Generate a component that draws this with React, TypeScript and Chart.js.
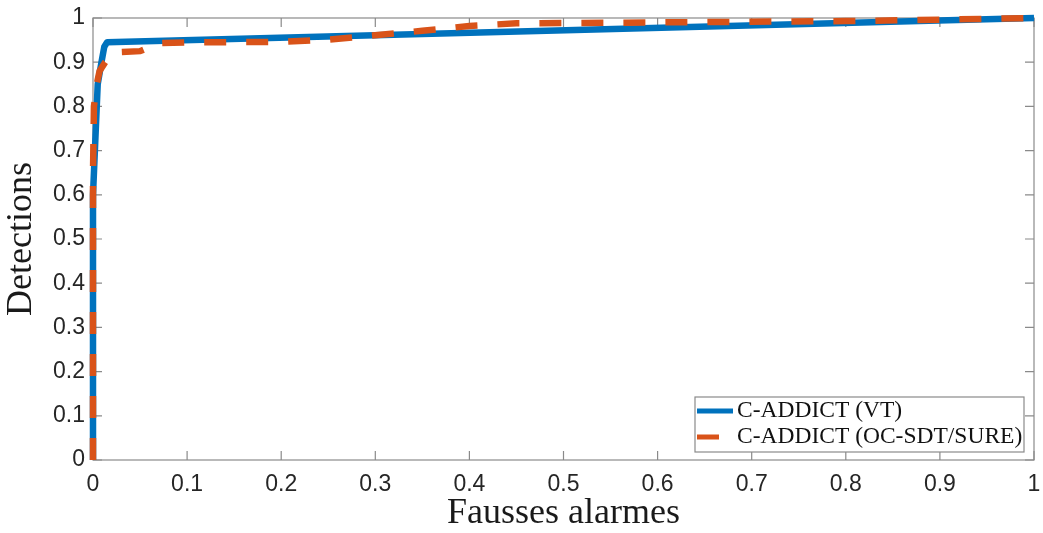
import React, { useEffect, useRef } from "react";
import { Chart, registerables } from "chart.js";

Chart.register(...registerables);

// ---- data ----
const seriesLabels = ["C-ADDICT (VT)", "C-ADDICT (OC-SDT/SURE)"];
const vtX = [0, 0, 0.002, 0.005, 0.009, 0.012, 0.015, 1];
const vtY = [0, 0.6, 0.7, 0.85, 0.9, 0.935, 0.945, 1];
const ocX = [0, 0, 0.001, 0.004, 0.007, 0.013, 0.022, 0.03, 0.05, 0.07, 0.1, 0.2, 0.25, 0.3, 0.35, 0.4, 0.45, 0.6, 0.8, 0.95, 1];
const ocY = [0, 0.65, 0.8, 0.85, 0.88, 0.9, 0.918, 0.923, 0.925, 0.943, 0.945, 0.946, 0.951, 0.961, 0.971, 0.982, 0.988, 0.99, 0.993, 0.998, 1];
const xTickValues = [0, 0.1, 0.2, 0.3, 0.4, 0.5, 0.6, 0.7, 0.8, 0.9, 1];
const yTickValues = [0, 0.1, 0.2, 0.3, 0.4, 0.5, 0.6, 0.7, 0.8, 0.9, 1];
const xTitle = "Fausses alarmes";
const yTitle = "Detections";

const BLUE = "#0072BD";
const ORANGE = "#D95319";
const AXIS = "#8a8a8a";
const TEXT = "#262626";

const fmt = (v: number) => String(Number(v.toFixed(1)));

const boxPlugin = {
  id: "matlabBox",
  beforeDatasetsDraw(chart: any) {
    const { ctx, chartArea: a, scales } = chart;
    ctx.save();
    ctx.strokeStyle = AXIS;
    ctx.lineWidth = 1.2;
    ctx.strokeRect(a.left, a.top, a.right - a.left, a.bottom - a.top);
    const tl = 9;
    ctx.beginPath();
    xTickValues.forEach((v) => {
      const px = scales.x.getPixelForValue(v);
      ctx.moveTo(px, a.bottom);
      ctx.lineTo(px, a.bottom - tl);
      ctx.moveTo(px, a.top);
      ctx.lineTo(px, a.top + tl);
    });
    yTickValues.forEach((v) => {
      const py = scales.y.getPixelForValue(v);
      ctx.moveTo(a.left, py);
      ctx.lineTo(a.left + tl, py);
      ctx.moveTo(a.right, py);
      ctx.lineTo(a.right - tl, py);
    });
    ctx.stroke();
    ctx.restore();
  },
  afterDatasetsDraw(chart: any) {
    const { ctx, chartArea: a } = chart;
    const right = a.right - 10;
    const bottom = a.bottom - 8;
    const w = 329;
    const h = 55;
    const left = right - w;
    const top = bottom - h;
    ctx.save();
    ctx.fillStyle = "#ffffff";
    ctx.fillRect(left, top, w, h);
    ctx.strokeStyle = AXIS;
    ctx.lineWidth = 1.2;
    ctx.strokeRect(left, top, w, h);
    ctx.font = "23.5px 'Liberation Serif'";
    ctx.textBaseline = "middle";
    ctx.fillStyle = "#111";
    chart.data.datasets.forEach((ds: any, i: number) => {
      const cy = top + 14 + i * 26;
      ctx.beginPath();
      ctx.strokeStyle = ds.borderColor;
      ctx.lineWidth = 5;
      ctx.lineCap = "butt";
      ctx.setLineDash(ds.borderDash || []);
      ctx.moveTo(left + 2, cy);
      ctx.lineTo(left + 38, cy);
      ctx.stroke();
      ctx.setLineDash([]);
      ctx.fillText(ds.label, left + 42, cy);
    });
    ctx.restore();
  },
};

export default function App() {
  const ref = useRef<HTMLCanvasElement | null>(null);
  useEffect(() => {
    if (!ref.current) return;
    const chart = new Chart(ref.current, {
      type: "line",
      data: {
        datasets: [
          {
            label: seriesLabels[0],
            data: vtX.map((x, i) => ({ x, y: vtY[i] })),
            borderColor: BLUE,
            backgroundColor: BLUE,
            borderWidth: 6.5,
            pointRadius: 0,
            tension: 0,
            borderJoinStyle: "round",
            clip: false as any,
            order: 1,
          },
          {
            label: seriesLabels[1],
            data: ocX.map((x, i) => ({ x, y: ocY[i] })),
            borderColor: ORANGE,
            backgroundColor: ORANGE,
            borderWidth: 6.5,
            borderDash: [22, 20],
            borderCapStyle: "butt",
            pointRadius: 0,
            tension: 0,
            clip: false as any,
            order: 0,
          },
        ],
      },
      options: {
        responsive: false,
        animation: false,
        layout: { padding: { top: 18, right: 9, left: 0, bottom: 0 } },
        plugins: { legend: { display: false }, tooltip: { enabled: false } },
        scales: {
          x: {
            type: "linear",
            min: 0,
            max: 1,
            afterBuildTicks: (s: any) => {
              s.ticks = xTickValues.map((v) => ({ value: v }));
            },
            afterFit: (s: any) => {
              s.height = 73;
              s.paddingLeft = 0;
              s.paddingRight = 0;
            },
            ticks: {
              autoSkip: false,
              maxRotation: 0,
              padding: 11,
              color: TEXT,
              font: { family: "'Liberation Sans'", size: 23 },
              callback: (v: any) => fmt(Number(v)),
            },
            grid: { display: false, drawTicks: false },
            border: { display: false },
            title: {
              display: true,
              text: xTitle,
              color: "#1a1a1a",
              font: { family: "'Liberation Serif'", size: 36, lineHeight: 1 },
              padding: { top: 0, bottom: 1 },
            },
          },
          y: {
            type: "linear",
            min: 0,
            max: 1,
            afterBuildTicks: (s: any) => {
              s.ticks = yTickValues.map((v) => ({ value: v }));
            },
            afterFit: (s: any) => {
              s.width = 93;
              s.paddingTop = 0;
              s.paddingBottom = 0;
            },
            ticks: {
              autoSkip: false,
              padding: 8,
              color: TEXT,
              font: { family: "'Liberation Sans'", size: 23 },
              callback: (v: any) => fmt(Number(v)),
            },
            grid: { display: false, drawTicks: false },
            border: { display: false },
            title: {
              display: true,
              text: yTitle,
              color: "#1a1a1a",
              font: { family: "'Liberation Serif'", size: 36, lineHeight: 1 },
              padding: { top: 4, bottom: 0 },
            },
          },
        },
      },
      plugins: [boxPlugin],
    } as any);
    return () => chart.destroy();
  }, []);
  return (
    <div style={{ position: "absolute", left: 0, top: 0, width: 1043, height: 533, background: "#fff" }}>
      <canvas ref={ref} width={1043} height={533} />
    </div>
  );
}
